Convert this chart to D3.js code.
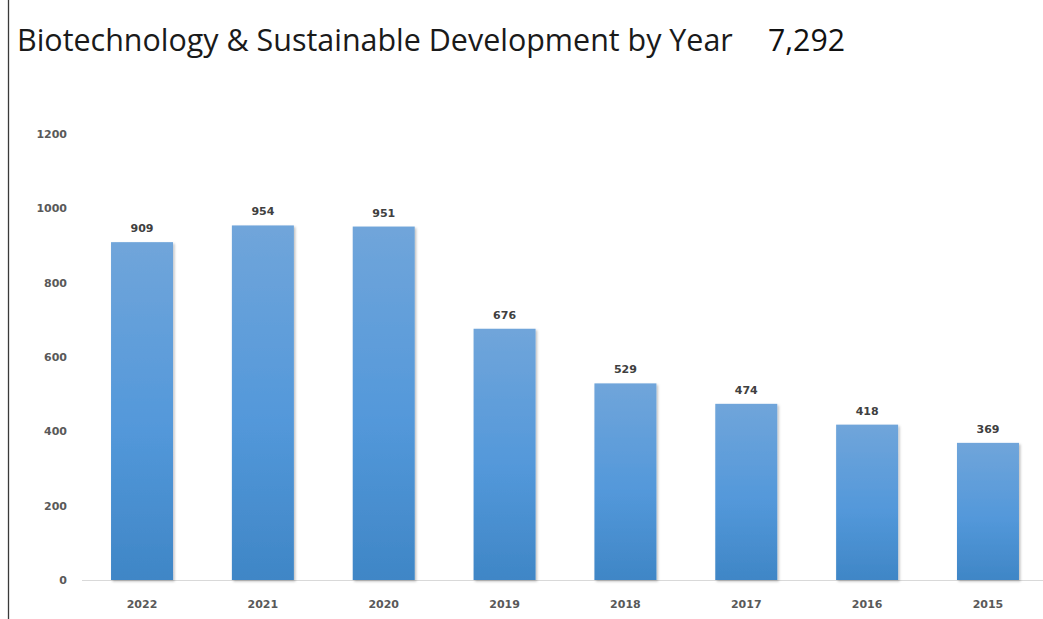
<!DOCTYPE html>
<html>
<head>
<meta charset="utf-8">
<script src="https://cdn.jsdelivr.net/npm/d3@7"></script>
<style>
  html, body { margin: 0; padding: 0; background: #fff; }
  svg { display: block; }
</style>
</head>
<body>
<svg id="chart" width="1043" height="619"></svg>
<script>
// Publications per year
const years = ["2022", "2021", "2020", "2019", "2018", "2017", "2016", "2015"];
const counts = [909, 954, 951, 676, 529, 474, 418, 369];
const yTicks = [0, 200, 400, 600, 800, 1000, 1200];
const titleText = "Biotechnology & Sustainable Development by Year";
const totalText = "7,292";

const svg = d3.select("#chart");
const W = 1043, H = 619;

const x = d3.scaleBand().domain(years).range([81.6, 1048.4]).paddingInner(0.487).paddingOuter(0.2435);
const y = d3.scaleLinear().domain([0, 1200]).range([580, 134]);

const defs = svg.append("defs");
const grad = defs.append("linearGradient")
  .attr("id", "barFill").attr("x1", 0).attr("y1", 0).attr("x2", 0).attr("y2", 1);
grad.append("stop").attr("offset", "0%").attr("stop-color", "#70a5da");
grad.append("stop").attr("offset", "55%").attr("stop-color", "#5398da");
grad.append("stop").attr("offset", "100%").attr("stop-color", "#3f86c6");

const shadow = defs.append("filter").attr("id", "barShadow")
  .attr("x", "-10%").attr("y", "-10%").attr("width", "130%").attr("height", "130%");
shadow.append("feDropShadow").attr("dx", 1.5).attr("dy", 1.5).attr("stdDeviation", 1.2)
  .attr("flood-color", "#000").attr("flood-opacity", 0.25);

// Left border line
svg.append("line").attr("x1", 8.5).attr("x2", 8.5).attr("y1", 0).attr("y2", H)
  .attr("stroke", "#3a3a3a").attr("stroke-width", 1.3);

// Title and total
const title = svg.append("text")
  .attr("x", 17).attr("y", 51)
  .attr("font-family", "'Open Sans', sans-serif")
  .attr("font-size", 34)
  .attr("fill", "#1a1a1a")
  .text(titleText);
const tw = title.node().getComputedTextLength();
title.attr("font-size", 34 * 716 / tw);

const total = svg.append("text")
  .attr("x", 768).attr("y", 51)
  .attr("font-family", "'Open Sans', sans-serif")
  .attr("font-size", 34)
  .attr("fill", "#111")
  .text(totalText);
const ttw = total.node().getComputedTextLength();
total.attr("font-size", 34 * 77 / ttw);

// Y axis labels (no axis line)
const yAxis = d3.axisLeft(y).tickValues(yTicks).tickSize(0).tickPadding(0).tickFormat(d3.format("d"));
const gy = svg.append("g").attr("transform", "translate(67,0)").call(yAxis);
gy.select(".domain").remove();
gy.selectAll("text")
  .attr("font-family", "'DejaVu Sans', sans-serif")
  .attr("font-weight", "bold")
  .attr("font-size", 11)
  .attr("fill", "#595959");

// Baseline
svg.append("line").attr("x1", 82).attr("x2", W).attr("y1", y(0) + 0.5).attr("y2", y(0) + 0.5)
  .attr("stroke", "#d9d9d9").attr("stroke-width", 1);

// Bars
svg.append("g").selectAll("rect")
  .data(years.map((yr, i) => ({ yr, v: counts[i] })))
  .join("rect")
  .attr("x", d => x(d.yr))
  .attr("y", d => y(d.v))
  .attr("width", x.bandwidth())
  .attr("height", d => y(0) - y(d.v))
  .attr("fill", "url(#barFill)")
  .attr("filter", "url(#barShadow)");

// Value labels
svg.append("g").selectAll("text")
  .data(years.map((yr, i) => ({ yr, v: counts[i] })))
  .join("text")
  .attr("x", d => x(d.yr) + x.bandwidth() / 2)
  .attr("y", d => y(d.v) - 10)
  .attr("text-anchor", "middle")
  .attr("font-family", "'DejaVu Sans', sans-serif")
  .attr("font-weight", "bold")
  .attr("font-size", 11)
  .attr("fill", "#404040")
  .text(d => d.v);

// X axis labels
const xAxis = d3.axisBottom(x).tickSize(0).tickPadding(0);
const gx = svg.append("g").attr("transform", "translate(0,600)").call(xAxis);
gx.select(".domain").remove();
gx.selectAll("text")
  .attr("dy", "0.71em")
  .attr("font-family", "'DejaVu Sans', sans-serif")
  .attr("font-weight", "bold")
  .attr("font-size", 11)
  .attr("fill", "#595959");
</script>
</body>
</html>
